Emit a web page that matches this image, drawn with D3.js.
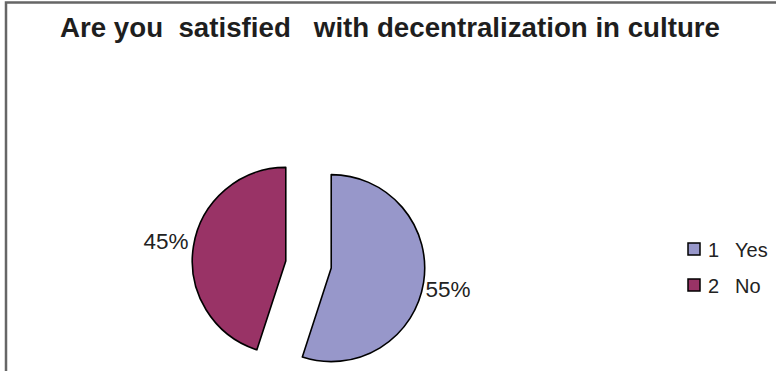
<!DOCTYPE html>
<html><head><meta charset="utf-8">
<script src="https://cdn.jsdelivr.net/npm/d3@7"></script>
<style>
html,body{margin:0;padding:0;background:#fff;}
svg{display:block;font-family:"Liberation Sans",Arial,sans-serif;}
</style></head>
<body><svg id="c" width="776" height="371"></svg>
<script>
const categories = ["1", "2"];
const categoryNames = ["Yes", "No"];
const values = [55, 45];
const labels = ["55%", "45%"];
const colors = ["#9797CA", "#993366"];
const title = "Are you  satisfied   with decentralization in culture";

const svg = d3.select("#c");
// frame
svg.append("path").attr("d","M6,371 V2.5 H776").attr("fill","none").attr("stroke","#666").attr("stroke-width",2.5);

svg.append("text").attr("x",60).attr("y",37).attr("font-size",27).attr("font-weight","bold")
  .attr("fill","#1e1e1e").style("white-space","pre")
  .attr("textLength",660).attr("lengthAdjust","spacingAndGlyphs").text(title);

const cx = 308.5, cy = 264.5, r = 93.5, explode = 23;
const pie = d3.pie().sort(null).value(d=>d)(values);
const arc = d3.arc().innerRadius(0).outerRadius(r);
const g = svg.append("g").attr("transform",`translate(${cx},${cy})`);
pie.forEach((p,i)=>{
  const mid = (p.startAngle+p.endAngle)/2;
  const dx = Math.sin(mid)*explode, dy = -Math.cos(mid)*explode;
  const sg = g.append("g").attr("transform",`translate(${dx},${dy})`);
  sg.append("path").attr("d",arc(p)).attr("fill",colors[i]).attr("stroke","#000").attr("stroke-width",1.6).attr("stroke-linejoin","round");
});
// labels
const lab = [
  {x: cx+Math.sin((pie[0].startAngle+pie[0].endAngle)/2)*(r+explode)+2, y: cy+32.5, a:"start"},
  {x: cx+Math.sin((pie[1].startAngle+pie[1].endAngle)/2)*(r+explode)-5, y: cy-15.5, a:"end"}
];
labels.forEach((t,i)=>{
  svg.append("text").attr("x",lab[i].x).attr("y",lab[i].y).attr("text-anchor",lab[i].a)
    .attr("font-size",22.5).attr("fill","#222").text(t);
});
// legend
const lg = svg.append("g").attr("transform","translate(688,243)");
categories.forEach((c,i)=>{
  const row = lg.append("g").attr("transform",`translate(0,${i*36})`);
  row.append("rect").attr("x",0).attr("y",0).attr("width",12).attr("height",12)
    .attr("fill",colors[i]).attr("stroke","#000").attr("stroke-width",1.5);
  row.append("text").attr("x",20).attr("y",14).attr("font-size",20).attr("fill","#222").text(c);
  row.append("text").attr("x",47).attr("y",14).attr("font-size",20).attr("fill","#222").text(categoryNames[i]);
});
</script></body></html>
